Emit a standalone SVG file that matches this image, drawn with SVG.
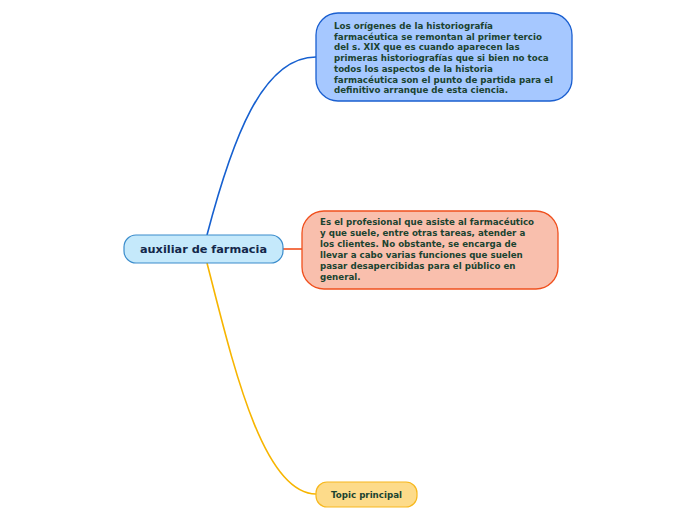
<svg xmlns="http://www.w3.org/2000/svg" width="696" height="520" viewBox="0 0 696 520">
<style>
text{font-family:"DejaVu Sans","Verdana",sans-serif;font-weight:bold}
.sub{font-size:8.7px;fill:#1b4330}
.conn{fill:none;stroke-width:1.6}
</style>
<rect width="696" height="520" fill="#ffffff"/>
<g id="connectors">
<path class="conn" stroke="#1660d0" d="M207,235 C232,140 262,57 316,57"/>
<path class="conn" stroke="#f0501e" d="M283,249 L302,249"/>
<path class="conn" stroke="#f7b500" d="M207,263 C232,360 262,494 316,494"/>
</g>
<g id="central">
<rect x="124" y="235" width="159" height="28" rx="12" fill="#c5e9fb" stroke="#3a8ccc" stroke-width="1.2"/>
<text x="203.5" y="253" text-anchor="middle" font-size="11.3" fill="#13274a">auxiliar de farmacia</text>
</g>
<g id="node1">
<rect x="316" y="13" width="256" height="88" rx="22" fill="#a6c8ff" stroke="#1a5fd0" stroke-width="1.3"/>
<text class="sub" x="334" y="29">Los orígenes de la historiografía</text>
<text class="sub" x="334" y="39.7">farmacéutica se remontan al primer tercio</text>
<text class="sub" x="334" y="50.4">del s. XIX que es cuando aparecen las</text>
<text class="sub" x="334" y="61.1">primeras historiografías que si bien no toca</text>
<text class="sub" x="334" y="71.8">todos los aspectos de la historia</text>
<text class="sub" x="334" y="82.5">farmacéutica son el punto de partida para el</text>
<text class="sub" x="334" y="93.2">definitivo arranque de esta ciencia.</text>
</g>
<g id="node2">
<rect x="302" y="211" width="256" height="78" rx="22" fill="#f9bfad" stroke="#f0501e" stroke-width="1.3"/>
<text class="sub" x="320" y="225">Es el profesional que asiste al farmacéutico</text>
<text class="sub" x="320" y="236">y que suele, entre otras tareas, atender a</text>
<text class="sub" x="320" y="247">los clientes. No obstante, se encarga de</text>
<text class="sub" x="320" y="258">llevar a cabo varias funciones que suelen</text>
<text class="sub" x="320" y="269">pasar desapercibidas para el público en</text>
<text class="sub" x="320" y="280">general.</text>
</g>
<g id="node3">
<rect x="316" y="482" width="101" height="25" rx="11" fill="#fddb8a" stroke="#f7b81e" stroke-width="1.2"/>
<text class="sub" x="366.5" y="498" text-anchor="middle">Topic principal</text>
</g>
</svg>
